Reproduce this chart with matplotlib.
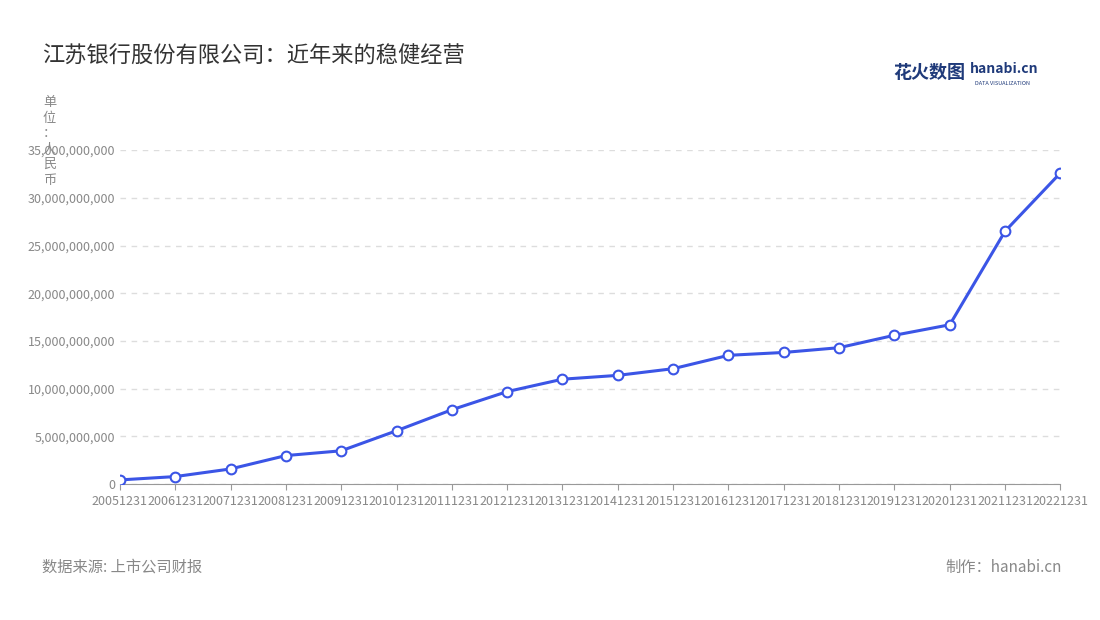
import matplotlib
matplotlib.use('Agg')
import matplotlib.pyplot as plt
from matplotlib.ticker import FuncFormatter

plt.rcParams['font.family'] = ['Noto Sans CJK SC', 'DejaVu Sans']

# 报告期与数值（单位：人民币）
periods = ['20051231', '20061231', '20071231', '20081231', '20091231', '20101231',
           '20111231', '20121231', '20131231', '20141231', '20151231', '20161231',
           '20171231', '20181231', '20191231', '20201231', '20211231', '20221231']
values = [0.45e9, 0.8e9, 1.6e9, 3.0e9, 3.5e9, 5.6e9, 7.8e9, 9.7e9, 11.0e9,
          11.4e9, 12.1e9, 13.5e9, 13.8e9, 14.3e9, 15.6e9, 16.7e9, 26.5e9, 32.6e9]
yticks = [0, 5e9, 10e9, 15e9, 20e9, 25e9, 30e9, 35e9]

fig = plt.figure(figsize=(11, 6.2), dpi=100)
ax = fig.add_axes([0.109, 0.219, 0.855, 0.539])

x = range(len(periods))
ax.plot(x, values, color='#3b55e6', lw=2.2, marker='o', ms=7,
        mfc='white', mec='#3b55e6', mew=1.5, zorder=3)

ax.set_xlim(0, len(periods) - 1)
ax.set_ylim(0, 35e9)
ax.set_xticks(list(x))
ax.set_xticklabels(periods, fontsize=9, color='#888888')
ax.set_yticks(yticks)
ax.yaxis.set_major_formatter(FuncFormatter(lambda v, p: f'{int(v):,}'))
ax.tick_params(axis='y', length=0, labelsize=9, labelcolor='#888888')
ax.tick_params(axis='x', length=4, color='#999999')
ax.grid(axis='y', ls=(0, (4, 4)), color='#dddddd', lw=1)
for s in ['top', 'right', 'left']:
    ax.spines[s].set_visible(False)
ax.spines['bottom'].set_color('#999999')

fig.text(0.038, 0.91, '江苏银行股份有限公司：近年来的稳健经营', fontsize=16, color='#333333', va='center')
fig.text(0.045, 0.845, '单\n位\n：\n人\n民\n币', fontsize=9.5, color='#888888', va='top', ha='center',
         linespacing=1.25)
fig.text(0.812, 0.883, '花火数图', fontsize=13, color='#1f3a7a', fontweight='bold', va='center')
fig.text(0.882, 0.888, 'hanabi.cn', fontsize=10, color='#1f3a7a', fontweight='bold', va='center')
fig.text(0.886, 0.865, 'DATA VISUALIZATION', fontsize=4, color='#1f3a7a', va='center')
fig.text(0.038, 0.085, '数据来源: 上市公司财报', fontsize=11, color='#888888', va='center')
fig.text(0.965, 0.085, '制作：hanabi.cn', fontsize=11, color='#888888', va='center', ha='right')

fig.savefig('out.png', dpi=100)
